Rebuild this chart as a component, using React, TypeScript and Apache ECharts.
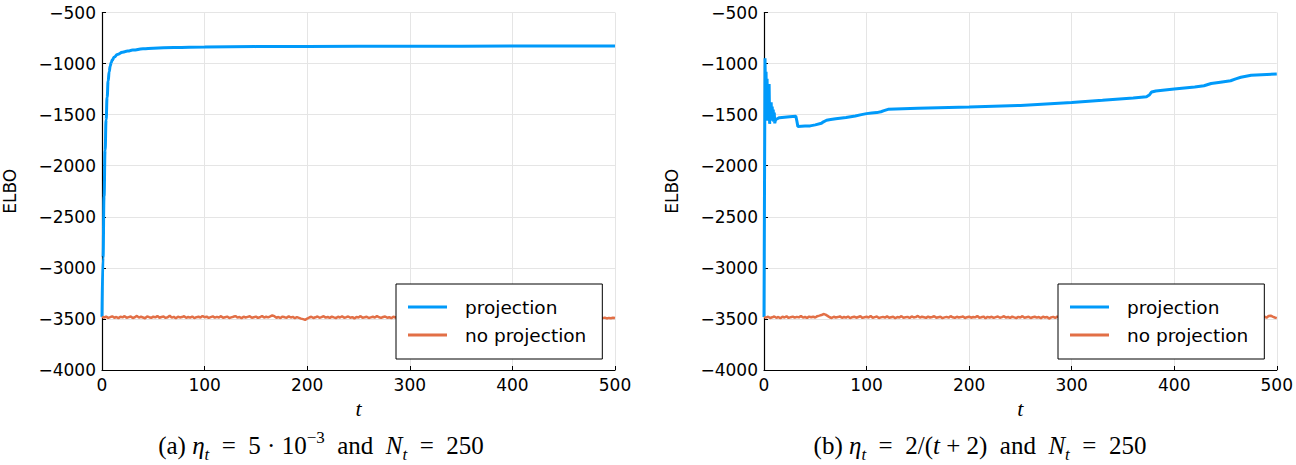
import React, { useEffect, useRef } from "react";
import * as echarts from "echarts";

const X_MIN = 0;
const X_MAX = 500;
const X_STEP = 100;
const Y_MIN = -4000;
const Y_MAX = -500;
const Y_STEP = 500;

// (a) projection: [t, ELBO]
const A_PROJ_T = [0, 1, 2, 3, 4, 5, 6, 7, 8, 9, 10, 12, 15, 20, 25, 30, 40, 50, 70, 100, 150, 200, 300, 400, 500];
const A_PROJ_V = [-3480, -2900, -2300, -1850, -1550, -1330, -1170, -1080, -1025, -990, -965, -935, -910, -890, -878, -868, -856, -849, -842, -837, -834, -832, -830, -829, -828];

// (b) projection: [t, ELBO]
const B_PROJ_T = [0, 1, 1.5, 2, 2.5, 3, 3.5, 4, 4.5, 5, 5.5, 6, 6.5, 7, 7.5, 8, 8.5, 9, 9.5, 10, 10.5, 11, 12, 15, 20, 25, 31, 32, 33, 40, 45, 50, 56, 58, 61, 65, 70, 80, 89, 95, 100, 105, 110, 114, 117, 121, 150, 200, 250, 300, 330, 360, 373, 376, 378, 382, 400, 420, 429, 436, 445, 455, 460, 465, 475, 500];
const B_PROJ_V = [-3480, -948, -1350, -1080, -1500, -1150, -1560, -1250, -1450, -1200, -1590, -1400, -1520, -1380, -1560, -1420, -1540, -1450, -1570, -1480, -1585, -1560, -1545, -1530, -1525, -1520, -1515, -1560, -1615, -1612, -1610, -1600, -1585, -1570, -1555, -1548, -1540, -1528, -1513, -1500, -1490, -1484, -1480, -1472, -1461, -1448, -1438, -1425, -1410, -1380, -1360, -1338, -1324, -1305, -1278, -1268, -1249, -1230, -1217, -1195, -1182, -1168, -1150, -1134, -1115, -1102];

// no projection, sampled every 2 iterations (t = 0, 2, ..., 500)
const NOPROJ_T_STEP = 2;
const A_NOPROJ_V = [
  -3480, -3486, -3477, -3490, -3483, -3474, -3488, -3481, -3492, -3478,
  -3485, -3473, -3489, -3482, -3476, -3491, -3484, -3470, -3487, -3479,
  -3486, -3493, -3475, -3483, -3489, -3477, -3485, -3472, -3488, -3481,
  -3476, -3490, -3484, -3469, -3487, -3480, -3493, -3478, -3485, -3482,
  -3474, -3489, -3481, -3487, -3476, -3492, -3483, -3479, -3486, -3471,
  -3484, -3478, -3490, -3482, -3475, -3488, -3480, -3486, -3473, -3489,
  -3483, -3477, -3491, -3485, -3479, -3472, -3487, -3481, -3494, -3478,
  -3486, -3480, -3474, -3489, -3483, -3477, -3490, -3484, -3471, -3487,
  -3479, -3485, -3476, -3466, -3473, -3488, -3481, -3492, -3477, -3484,
  -3489, -3475, -3486, -3480, -3493, -3483, -3490, -3497, -3502, -3509,
  -3496, -3486, -3479, -3491, -3484, -3476, -3488, -3482, -3473, -3487,
  -3481, -3490, -3477, -3485, -3492, -3479, -3486, -3474, -3489, -3483,
  -3476, -3488, -3482, -3495, -3480, -3486, -3473, -3489, -3484, -3478,
  -3491, -3485, -3479, -3487, -3472, -3484, -3490, -3481, -3476, -3488,
  -3483, -3493, -3478, -3486, -3480, -3471, -3487, -3482, -3489, -3475,
  -3485, -3479, -3492, -3484, -3477, -3488, -3481, -3474, -3490, -3483,
  -3478, -3486, -3491, -3480, -3487, -3473, -3484, -3489, -3477, -3485,
  -3482, -3494, -3479, -3486, -3472, -3488, -3483, -3476, -3490, -3481,
  -3487, -3475, -3484, -3491, -3478, -3486, -3482, -3470, -3488, -3480,
  -3485, -3492, -3477, -3484, -3489, -3481, -3474, -3487, -3483, -3490,
  -3476, -3486, -3480, -3493, -3484, -3478, -3488, -3473, -3485, -3481,
  -3489, -3477, -3486, -3482, -3491, -3479, -3484, -3471, -3487, -3483,
  -3480, -3490, -3476, -3485, -3488, -3474, -3486, -3481, -3493, -3478,
  -3484, -3489, -3479, -3486, -3472, -3487, -3482, -3476, -3490, -3483,
  -3486, -3479, -3488, -3484, -3492, -3487, -3495, -3490, -3493, -3488,
  -3491,
];
const B_NOPROJ_V = [
  -3482, -3487, -3478, -3491, -3484, -3476, -3489, -3481, -3493, -3479,
  -3486, -3474, -3490, -3483, -3477, -3488, -3480, -3485, -3472, -3487,
  -3481, -3490, -3477, -3484, -3478, -3486, -3473, -3468, -3462, -3452,
  -3458, -3470, -3484, -3491, -3479, -3486, -3482, -3475, -3489, -3481,
  -3487, -3476, -3492, -3483, -3478, -3488, -3481, -3474, -3490, -3484,
  -3479, -3486, -3472, -3488, -3482, -3477, -3491, -3485, -3480, -3487,
  -3475, -3489, -3483, -3478, -3493, -3481, -3486, -3473, -3488, -3484,
  -3480, -3491, -3476, -3485, -3482, -3470, -3487, -3479, -3484, -3490,
  -3477, -3486, -3481, -3474, -3489, -3483, -3478, -3492, -3485, -3480,
  -3487, -3473, -3484, -3490, -3479, -3486, -3482, -3476, -3491, -3483,
  -3478, -3488, -3481, -3485, -3472, -3489, -3484, -3477, -3493, -3480,
  -3486, -3479, -3490, -3483, -3476, -3488, -3482, -3474, -3487, -3481,
  -3489, -3477, -3485, -3492, -3480, -3486, -3473, -3488, -3483, -3478,
  -3491, -3484, -3479, -3487, -3481, -3494, -3478, -3486, -3482, -3497,
  -3485, -3480, -3490, -3476, -3487, -3483, -3471, -3488, -3482, -3477,
  -3486, -3490, -3479, -3484, -3475, -3489, -3481, -3487, -3478, -3485,
  -3492, -3480, -3486, -3474, -3488, -3483, -3477, -3490, -3484, -3479,
  -3487, -3481, -3476, -3489, -3485, -3472, -3486, -3482, -3491, -3478,
  -3484, -3488, -3480, -3475, -3490, -3483, -3479, -3486, -3473, -3488,
  -3482, -3477, -3491, -3485, -3480, -3487, -3474, -3489, -3483, -3478,
  -3486, -3492, -3481, -3476, -3488, -3484, -3479, -3490, -3473, -3485,
  -3480, -3487, -3483, -3491, -3477, -3486, -3482, -3475, -3489, -3484,
  -3479, -3488, -3485, -3472, -3487, -3481, -3490, -3478, -3486, -3483,
  -3476, -3489, -3482, -3487, -3480, -3493, -3484, -3478, -3488, -3481,
  -3485, -3479, -3490, -3483, -3476, -3488, -3472, -3468, -3478, -3486,
  -3492,
];

const SERIES_NAMES = ["projection", "no projection"];
const CAPTION_A = "(a) {it|η}{sub|t}  =  5 · 10{sup|−3}  and  {it|N}{sub|t}  =  250";
const CAPTION_B = "(b) {it|η}{sub|t}  =  2/({it|t} + 2)  and  {it|N}{sub|t}  =  250";

const BLUE = "#009AFA";
const ORANGE = "#E26F46";
const SANS = "DejaVu Sans";
const SERIF = "Liberation Serif";

const zip = (ts: number[], vs: number[]) => ts.map((t, i) => [t, vs[i]]);
const noProj = (vs: number[]) => vs.map((v, i) => [i * NOPROJ_T_STEP, v]);

export default function App() {
  const ref = useRef<HTMLDivElement>(null);
  useEffect(() => {
    if (!ref.current) return;
    const chart = echarts.init(ref.current, undefined, { renderer: "svg" });
    const gridW = 513;
    const gridH = 357.5;
    const grids = [
      { left: 102, top: 12.5, width: gridW, height: gridH },
      { left: 764, top: 12.5, width: gridW, height: gridH },
    ];
    const xAxis = grids.map((_, i) => ({
      type: "value",
      gridIndex: i,
      min: X_MIN,
      max: X_MAX,
      interval: X_STEP,
      name: "t",
      nameLocation: "middle",
      nameGap: 26,
      nameTextStyle: { fontFamily: SERIF, fontStyle: "italic", fontSize: 22, color: "#000" },
      axisLine: { show: true, onZero: false, lineStyle: { color: "#000", width: 1.2 } },
      axisTick: { show: true, inside: true, length: 4, lineStyle: { color: "#000", width: 1 } },
      axisLabel: { fontFamily: SANS, fontSize: 17, color: "#000", margin: 6 },
      splitLine: { show: true, lineStyle: { color: "#e5e5e5", width: 1 } },
    }));
    const yAxis = grids.map((_, i) => ({
      type: "value",
      gridIndex: i,
      min: Y_MIN,
      max: Y_MAX,
      interval: Y_STEP,
      name: "ELBO",
      nameLocation: "middle",
      nameGap: 84,
      nameRotate: 90,
      nameTextStyle: { fontFamily: SANS, fontSize: 17, color: "#000" },
      axisLine: { show: true, onZero: false, lineStyle: { color: "#000", width: 1.2 } },
      axisTick: { show: true, inside: true, length: 4, lineStyle: { color: "#000", width: 1 } },
      axisLabel: {
        fontFamily: SANS,
        fontSize: 17,
        color: "#000",
        margin: 6,
        formatter: (v: number) => String(v).replace("-", "\u2212"),
      },
      splitLine: { show: true, lineStyle: { color: "#e5e5e5", width: 1 } },
    }));
    const legendBase = {
      top: 284,
      orient: "vertical",
      borderColor: "#000",
      borderWidth: 1,
      borderRadius: 0,
      backgroundColor: "#fff",
      padding: [13, 16, 14, 12],
      itemGap: 8,
      itemWidth: 39,
      itemHeight: 3,
      icon: "rect",
      textStyle: { fontFamily: SANS, fontSize: 18.5, color: "#000", lineHeight: 20, padding: [0, 0, 0, 13] },
      data: SERIES_NAMES,
    };
    const lineSeries = (name: string, idx: number, data: number[][], color: string, width: number, smooth: boolean) => ({
      type: "line",
      name,
      xAxisIndex: idx,
      yAxisIndex: idx,
      data,
      color,
      symbol: "none",
      showSymbol: false,
      smooth,
      smoothMonotone: "x",
      lineStyle: { color, width },
      itemStyle: { color },
    });
    const rich = {
      it: { fontFamily: SERIF, fontStyle: "italic", fontSize: 25, lineHeight: 34 },
      sub: { fontFamily: SERIF, fontStyle: "italic", fontSize: 17, verticalAlign: "bottom", lineHeight: 25 },
      sup: { fontFamily: SERIF, fontSize: 17, verticalAlign: "top", lineHeight: 12 },
    };
    const caption = (x: number, text: string) => ({
      type: "text",
      x,
      y: 445.5,
      style: {
        text,
        fontFamily: SERIF,
        fontSize: 25,
        lineHeight: 34,
        fill: "#000",
        align: "center",
        verticalAlign: "middle",
        rich,
      },
    });
    chart.setOption({
      animation: false,
      backgroundColor: "#fff",
      grid: grids,
      xAxis,
      yAxis,
      legend: [
        { ...legendBase, left: 396 },
        { ...legendBase, left: 1058 },
      ],
      series: [
        lineSeries(SERIES_NAMES[0], 0, zip(A_PROJ_T, A_PROJ_V), BLUE, 3, true),
        lineSeries(SERIES_NAMES[1], 0, noProj(A_NOPROJ_V), ORANGE, 2.5, false),
        lineSeries(SERIES_NAMES[0], 1, zip(B_PROJ_T, B_PROJ_V), BLUE, 3, false),
        lineSeries(SERIES_NAMES[1], 1, noProj(B_NOPROJ_V), ORANGE, 2.5, false),
      ],
      graphic: [caption(321, CAPTION_A), caption(980, CAPTION_B)],
    });
    return () => chart.dispose();
  }, []);
  return (
    <div
      ref={ref}
      style={{ position: "fixed", left: 0, top: 0, width: 1296, height: 465, background: "#fff" }}
    />
  );
}
